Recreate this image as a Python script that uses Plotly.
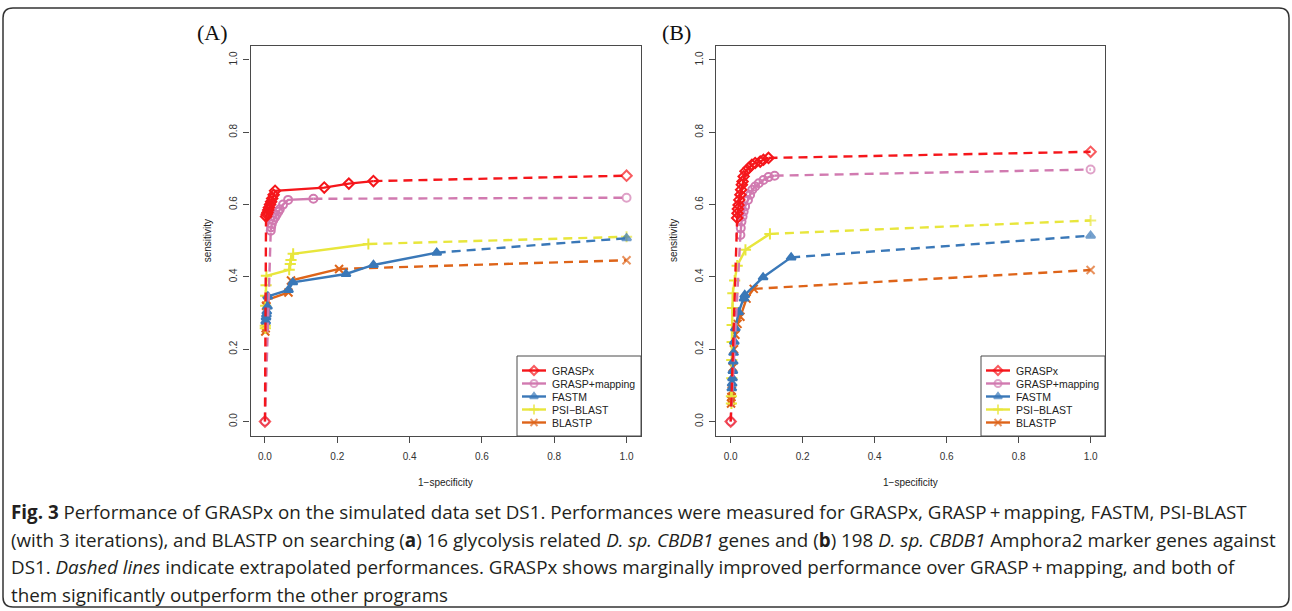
import plotly.graph_objects as go

W, H = 1292, 611

series_names = ["GRASPx", "GRASP+mapping", "FASTM", "PSI\u2212BLAST", "BLASTP"]
series_colors = ["#F5161B", "#D17AB0", "#3A78B8", "#E8E63C", "#DE6419"]
series_symbols = ["diamond-open", "circle-open", "triangle-up", "cross-thin-open", "x-thin-open"]
x_ticks = [0.0, 0.2, 0.4, 0.6, 0.8, 1.0]
tick_labels = ["0.0", "0.2", "0.4", "0.6", "0.8", "1.0"]

# ---------------- Panel A: measured points ----------------
graspx_a_x = [0.003, 0.005, 0.007, 0.009, 0.011, 0.014, 0.017, 0.020, 0.024, 0.028, 0.164, 0.232, 0.300]
graspx_a_y = [0.567, 0.573, 0.578, 0.585, 0.592, 0.600, 0.608, 0.617, 0.627, 0.638, 0.647, 0.658, 0.665]
graspmap_a_x = [0.016, 0.017, 0.019, 0.023, 0.028, 0.032, 0.037, 0.041, 0.050, 0.064, 0.134]
graspmap_a_y = [0.528, 0.537, 0.546, 0.557, 0.565, 0.572, 0.580, 0.587, 0.600, 0.613, 0.616]
fastm_a_x = [0.002, 0.003, 0.004, 0.005, 0.007, 0.008, 0.065, 0.077, 0.224, 0.300, 0.475]
fastm_a_y = [0.277, 0.288, 0.296, 0.304, 0.318, 0.346, 0.364, 0.385, 0.408, 0.433, 0.467]
psiblast_a_x = [0.001, 0.001, 0.002, 0.002, 0.003, 0.004, 0.067, 0.070, 0.072, 0.078, 0.286]
psiblast_a_y = [0.258, 0.265, 0.320, 0.348, 0.377, 0.403, 0.420, 0.436, 0.447, 0.464, 0.491]
blastp_a_x = [0.001, 0.002, 0.003, 0.004, 0.065, 0.072, 0.205]
blastp_a_y = [0.249, 0.258, 0.320, 0.336, 0.357, 0.390, 0.422]
# extrapolated end values at 1-specificity = 1
extrap_a_y = [0.680, 0.619, 0.507, 0.511, 0.446]

# ---------------- Panel B: measured points ----------------
graspx_b_x = [0.018, 0.019, 0.020, 0.022, 0.024, 0.027, 0.029, 0.031, 0.033, 0.036, 0.041, 0.050, 0.059, 0.068, 0.082, 0.091, 0.105]
graspx_b_y = [0.563, 0.576, 0.588, 0.599, 0.613, 0.627, 0.641, 0.655, 0.664, 0.678, 0.692, 0.701, 0.710, 0.715, 0.719, 0.724, 0.729]
graspmap_b_x = [0.027, 0.028, 0.030, 0.033, 0.036, 0.040, 0.048, 0.054, 0.060, 0.068, 0.078, 0.091, 0.105, 0.122]
graspmap_b_y = [0.516, 0.535, 0.553, 0.567, 0.581, 0.595, 0.613, 0.627, 0.641, 0.650, 0.659, 0.668, 0.676, 0.680]
fastm_b_x = [0.003, 0.004, 0.005, 0.006, 0.007, 0.008, 0.010, 0.013, 0.022, 0.037, 0.039, 0.090, 0.168]
fastm_b_y = [0.092, 0.105, 0.120, 0.140, 0.166, 0.190, 0.221, 0.258, 0.302, 0.340, 0.350, 0.399, 0.454]
psiblast_b_x = [0.002, 0.002, 0.003, 0.003, 0.004, 0.004, 0.005, 0.006, 0.011, 0.018, 0.041, 0.109]
psiblast_b_y = [0.050, 0.070, 0.120, 0.170, 0.220, 0.267, 0.314, 0.355, 0.390, 0.431, 0.475, 0.519]
blastp_b_x = [0.001, 0.002, 0.002, 0.003, 0.004, 0.006, 0.009, 0.013, 0.019, 0.027, 0.044, 0.064]
blastp_b_y = [0.050, 0.058, 0.068, 0.085, 0.110, 0.150, 0.200, 0.240, 0.270, 0.290, 0.340, 0.367]
extrap_b_y = [0.746, 0.697, 0.514, 0.556, 0.419]

# series that are extrapolated from the origin (0, 0)
from_origin = [True, True, False, False, False]

panels = [
    dict(xs=[graspx_a_x, graspmap_a_x, fastm_a_x, psiblast_a_x, blastp_a_x],
         ys=[graspx_a_y, graspmap_a_y, fastm_a_y, psiblast_a_y, blastp_a_y],
         ext=extrap_a_y, xaxis="x", yaxis="y", lx="x3", ly="y3"),
    dict(xs=[graspx_b_x, graspmap_b_x, fastm_b_x, psiblast_b_x, blastp_b_x],
         ys=[graspx_b_y, graspmap_b_y, fastm_b_y, psiblast_b_y, blastp_b_y],
         ext=extrap_b_y, xaxis="x2", yaxis="y2", lx="x4", ly="y4"),
]

fig = go.Figure()
LW = 2.4
MS = 8
DASH = "9px,6px"
draw_order = [4, 3, 2, 1, 0]  # BLASTP first, GRASPx on top

for p in panels:
    for i in draw_order:
        col, sym = series_colors[i], series_symbols[i]
        xs, ys = p["xs"][i], p["ys"][i]
        mline = dict(width=2, color=col)
        if from_origin[i]:
            fig.add_trace(go.Scatter(
                x=[0, xs[0]], y=[0, ys[0]], mode="lines+markers",
                line=dict(color=col, width=LW, dash=DASH),
                marker=dict(symbol=sym, size=[MS, 0], color=col, line=mline),
                xaxis=p["xaxis"], yaxis=p["yaxis"], showlegend=False, hoverinfo="skip"))
        fig.add_trace(go.Scatter(
            x=[xs[-1], 1.0], y=[ys[-1], p["ext"][i]], mode="lines+markers",
            line=dict(color=col, width=LW, dash=DASH),
            marker=dict(symbol=sym, size=[0, MS], color=col, line=mline),
            xaxis=p["xaxis"], yaxis=p["yaxis"], showlegend=False, hoverinfo="skip"))
        fig.add_trace(go.Scatter(
            x=xs, y=ys, mode="lines+markers", name=series_names[i],
            line=dict(color=col, width=LW),
            marker=dict(symbol=sym, size=MS, color=col, line=mline),
            xaxis=p["xaxis"], yaxis=p["yaxis"], showlegend=False))

def px(x):
    return x / W

def py(y):
    return 1 - y / H

xA = [250.5, 641.0]
xB = [716.3, 1105.0]
yT, yB = 45.5, 436.0
LEG_W, LEG_H = 124.0, 80.0

axis_common = dict(
    range=[-0.04, 1.04], showgrid=False, zeroline=False,
    showline=True, mirror=True, linecolor="#4a4a4a", linewidth=1.2,
    ticks="outside", ticklen=6, tickwidth=1, tickcolor="#4a4a4a",
    tickvals=x_ticks, ticktext=tick_labels,
    tickfont=dict(family="Liberation Sans, Arial, sans-serif", size=10, color="#333333"),
    fixedrange=True,
)
leg_axis = dict(visible=False, showgrid=False, zeroline=False, fixedrange=True)

fig.update_layout(
    width=W, height=H, margin=dict(l=0, r=0, t=0, b=0),
    paper_bgcolor="white", plot_bgcolor="white", showlegend=False,
    xaxis=dict(domain=[px(xA[0]), px(xA[1])], anchor="y", ticklabelstandoff=5, **axis_common),
    yaxis=dict(domain=[py(yB), py(yT)], anchor="x", tickangle=-90, ticklabelstandoff=2, **axis_common),
    xaxis2=dict(domain=[px(xB[0]), px(xB[1])], anchor="y2", ticklabelstandoff=5, **axis_common),
    yaxis2=dict(domain=[py(yB), py(yT)], anchor="x2", tickangle=-90, ticklabelstandoff=2, **axis_common),
    xaxis3=dict(domain=[px(xA[1] - LEG_W), px(xA[1])], anchor="y3", range=[0, LEG_W], **leg_axis),
    yaxis3=dict(domain=[py(yB), py(yB - LEG_H)], anchor="x3", range=[LEG_H, 0], **leg_axis),
    xaxis4=dict(domain=[px(xB[1] - LEG_W), px(xB[1])], anchor="y4", range=[0, LEG_W], **leg_axis),
    yaxis4=dict(domain=[py(yB), py(yB - LEG_H)], anchor="x4", range=[LEG_H, 0], **leg_axis),
)

annotations = []
shapes = []
leg_font = dict(family="Liberation Sans, Arial, sans-serif", size=10.5, color="#222222")
row_y = [14.5, 27.5, 40.5, 53.5, 66.5]
for p, (x0, x1) in zip(panels, [xA, xB]):
    shapes.append(dict(type="rect", xref="paper", yref="paper",
                       x0=px(x1 - LEG_W), x1=px(x1), y0=py(yB), y1=py(yB - LEG_H),
                       line=dict(color="#4a4a4a", width=1), fillcolor="rgba(0,0,0,0)", layer="above"))
    for i in range(5):
        col, sym = series_colors[i], series_symbols[i]
        fig.add_trace(go.Scatter(
            x=[5, 17, 29], y=[row_y[i]] * 3, mode="lines+markers",
            line=dict(color=col, width=LW),
            marker=dict(symbol=sym, size=[0, 7, 0], color=col, line=dict(width=2, color=col)),
            xaxis=p["lx"], yaxis=p["ly"], showlegend=False, hoverinfo="skip"))
        annotations.append(dict(text=series_names[i], x=33, y=row_y[i], xref=p["lx"], yref=p["ly"],
                                showarrow=False, xanchor="left", yanchor="middle", font=leg_font))

lab_font = dict(family="Liberation Sans, Arial, sans-serif", size=10, color="#222222")
for (x0, x1), letter in [(xA, "(A)"), (xB, "(B)")]:
    annotations.append(dict(text="sensitivity", x=px(x0 - 43), y=py((yT + yB) / 2),
                            xref="paper", yref="paper", showarrow=False, textangle=-90,
                            font=lab_font, xanchor="center", yanchor="middle"))
    annotations.append(dict(text="1\u2212specificity", x=px((x0 + x1) / 2), y=py(482),
                            xref="paper", yref="paper", showarrow=False,
                            font=lab_font, xanchor="center", yanchor="middle"))
    annotations.append(dict(text=letter, x=px(x0 - 56), y=py(33),
                            xref="paper", yref="paper", showarrow=False,
                            font=dict(family="Liberation Serif, Times New Roman, serif", size=22, color="#111111"),
                            xanchor="left", yanchor="middle"))

caption_lines = [
    "<b>Fig. 3</b> Performance of GRASPx on the simulated data set DS1. Performances were measured for GRASPx, GRASP\u2009+\u2009mapping, FASTM, PSI-BLAST",
    "(with 3 iterations), and BLASTP on searching (<b>a</b>) 16 glycolysis related <i>D. sp. CBDB1</i> genes and (<b>b</b>) 198 <i>D. sp. CBDB1</i> Amphora2 marker genes against",
    "DS1. <i>Dashed lines</i> indicate extrapolated performances. GRASPx shows marginally improved performance over GRASP\u2009+\u2009mapping, and both of",
    "them significantly outperform the other programs",
]
caption_y = [512, 539.5, 567, 594.5]
for line, yy in zip(caption_lines, caption_y):
    annotations.append(dict(text=line, x=px(9), y=py(yy), xref="paper", yref="paper",
                            showarrow=False, xanchor="left", yanchor="middle", align="left",
                            font=dict(family="Open Sans, Noto Sans, sans-serif", size=18.8, color="#231f20")))

# rounded figure border
bx0, bx1, by0, by1, r = 3, 1289, 8, 607, 10
path = (f"M {px(bx0 + r)} {py(by0)} L {px(bx1 - r)} {py(by0)} Q {px(bx1)} {py(by0)} {px(bx1)} {py(by0 + r)} "
        f"L {px(bx1)} {py(by1 - r)} Q {px(bx1)} {py(by1)} {px(bx1 - r)} {py(by1)} "
        f"L {px(bx0 + r)} {py(by1)} Q {px(bx0)} {py(by1)} {px(bx0)} {py(by1 - r)} "
        f"L {px(bx0)} {py(by0 + r)} Q {px(bx0)} {py(by0)} {px(bx0 + r)} {py(by0)} Z")
shapes.append(dict(type="path", path=path, xref="paper", yref="paper",
                   line=dict(color="#333333", width=1.5), layer="below"))

fig.update_layout(annotations=annotations, shapes=shapes)

fig.write_html("out.html", config={"displayModeBar": False},
               post_script="document.body.style.margin='0';document.body.style.overflow='hidden';")
